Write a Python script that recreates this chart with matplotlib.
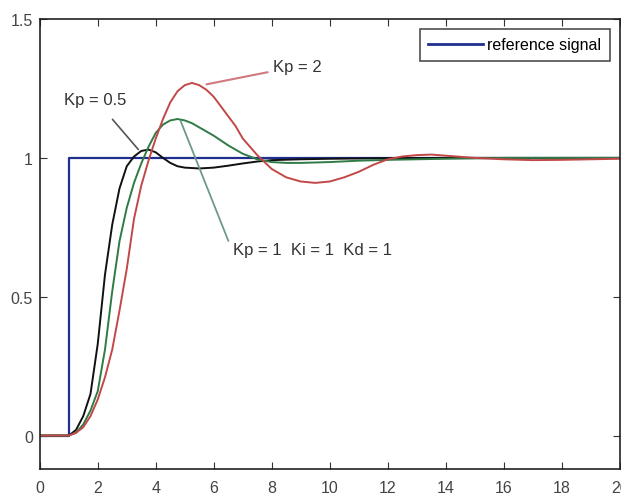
import matplotlib
matplotlib.use("Agg")
import matplotlib.pyplot as plt
from matplotlib.lines import Line2D

plt.rcParams['font.family'] = ['Liberation Sans', 'DejaVu Sans']

# reference step
t_ref = [0, 1, 1, 20]
y_ref = [0, 0, 1, 1]

# Kp = 0.5 (black)
t_k05 = [0, 1, 1.25, 1.5, 1.75, 2, 2.25, 2.5, 2.75, 3, 3.25, 3.5, 3.75, 4, 4.25,
         4.5, 4.75, 5, 5.5, 6, 6.5, 7, 7.5, 8, 9, 10, 12, 14, 16, 18, 20]
y_k05 = [0, 0, 0.02, 0.07, 0.15, 0.33, 0.58, 0.76, 0.89, 0.97, 1.005, 1.025, 1.03,
         1.02, 1.0, 0.982, 0.97, 0.965, 0.962, 0.965, 0.972, 0.98, 0.987, 0.992,
         0.995, 0.997, 0.999, 1, 1, 1, 1]

# Kp = 1, Ki = 1, Kd = 1 (green)
t_pid = [0, 1, 1.25, 1.5, 1.75, 2, 2.25, 2.5, 2.75, 3, 3.25, 3.5, 3.75, 4, 4.25,
         4.5, 4.75, 5, 5.25, 5.5, 6, 6.5, 7, 7.5, 8, 8.5, 9, 10, 11, 12, 14, 16, 18, 20]
y_pid = [0, 0, 0.01, 0.04, 0.09, 0.16, 0.31, 0.52, 0.7, 0.82, 0.91, 0.98, 1.04,
         1.09, 1.12, 1.135, 1.14, 1.135, 1.125, 1.11, 1.08, 1.045, 1.015, 0.995,
         0.985, 0.982, 0.982, 0.985, 0.99, 0.993, 0.997, 1, 1, 1]

# Kp = 2 (red)
t_k2 = [0, 1, 1.25, 1.5, 1.75, 2, 2.25, 2.5, 2.75, 3, 3.25, 3.5, 3.75, 4, 4.25, 4.5,
        4.75, 5, 5.25, 5.5, 5.75, 6, 6.25, 6.5, 6.75, 7, 7.25, 7.5, 7.75, 8, 8.5, 9,
        9.5, 10, 10.5, 11, 11.5, 12, 12.5, 13, 13.5, 14, 15, 16, 17, 18, 19, 20]
y_k2 = [0, 0, 0.01, 0.03, 0.07, 0.13, 0.21, 0.31, 0.45, 0.6, 0.78, 0.9, 0.99, 1.07,
        1.14, 1.2, 1.24, 1.262, 1.27, 1.262, 1.245, 1.22, 1.185, 1.15, 1.115, 1.07,
        1.04, 1.01, 0.985, 0.96, 0.93, 0.915, 0.91, 0.915, 0.93, 0.95, 0.975, 0.995,
        1.005, 1.01, 1.012, 1.008, 1.0, 0.995, 0.992, 0.993, 0.995, 0.997]

x_ticks = [0, 2, 4, 6, 8, 10, 12, 14, 16, 18, 20]
y_ticks = [0, 0.5, 1, 1.5]
y_tick_labels = ['0', '0.5', '1', '1.5']

fig = plt.figure(figsize=(6.21, 5.02), dpi=100)
ax = fig.add_axes([0.064, 0.064, 0.934, 0.896])

c_ref = '#1f2f8f'
c_k05 = '#111111'
c_pid = '#2f7a45'
c_k2 = '#c24848'

ax.plot(t_ref, y_ref, color=c_ref, lw=1.6)
ax.plot(t_k05, y_k05, color=c_k05, lw=1.4)
ax.plot(t_pid, y_pid, color=c_pid, lw=1.4)
ax.plot(t_k2, y_k2, color=c_k2, lw=1.4)

ax.set_xlim(0, 20)
ax.set_ylim(-0.12, 1.5)
ax.set_xticks(x_ticks)
ax.set_yticks(y_ticks)
ax.set_yticklabels(y_tick_labels)
ax.tick_params(direction='in', top=True, right=True, labelsize=11.5,
               labelcolor='#444444', color='#333333', length=5)
ax.tick_params(axis='x', pad=8)
ax.tick_params(axis='y', pad=5)
for s in ax.spines.values():
    s.set_color('#222222')
    s.set_linewidth(1.2)

# annotations
fs = 12
ax.annotate('Kp = 2', xy=(5.75, 1.265), xytext=(8.05, 1.33),
            fontsize=fs, color='#333333', va='center', ha='left',
            arrowprops=dict(arrowstyle='-', color='#d07a80', lw=1.5,
                            shrinkA=2, shrinkB=0))
ax.annotate('Kp = 0.5', xy=(3.4, 1.03), xytext=(0.85, 1.21),
            fontsize=fs, color='#333333', va='center', ha='left',
            arrowprops=dict(arrowstyle='-', color='#555555', lw=1.2,
                            shrinkA=9, shrinkB=0))
ax.annotate('Kp = 1  Ki = 1  Kd = 1', xy=(4.85, 1.135), xytext=(6.65, 0.67),
            fontsize=fs, color='#333333', va='center', ha='left',
            arrowprops=dict(arrowstyle='-', color='#6f9a86', lw=1.3,
                            shrinkA=2, shrinkB=0,
                            relpos=(-0.02, 0.9)))

handle = Line2D([0], [0], color=c_ref, lw=2)
leg = ax.legend([handle], ['reference signal'], loc='upper right',
                fontsize=11.5, frameon=True, fancybox=False, handlelength=3.4,
                handletextpad=0.3, borderpad=0.55, borderaxespad=0.6)
leg.get_frame().set_edgecolor('#222222')
leg.get_frame().set_linewidth(1.2)

fig.savefig('out.png', dpi=100)
